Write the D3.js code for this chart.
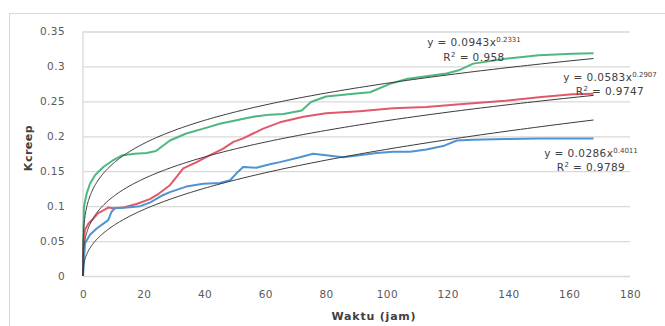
<!DOCTYPE html>
<html>
<head>
<meta charset="utf-8">
<script src="https://cdn.jsdelivr.net/npm/d3@7"></script>
<style>
  body { margin: 0; background: #ffffff; }
  svg { display: block; font-family: "DejaVu Sans", sans-serif; }
</style>
</head>
<body>
<svg></svg>
<script>
// data (time in hours, creep)
var greenT = [0, 0.1, 0.3, 1.2, 2.3, 3.9, 6.7, 10, 13, 17, 21, 24, 28.6, 34, 39.6, 45, 50.5, 56, 61.5, 66, 72, 75, 80, 89, 94.5, 96.6, 101, 106.5, 113, 119.6, 124, 128.4, 139, 150, 161, 168]
var greenV = [0, 0.051, 0.099, 0.118, 0.132, 0.144, 0.156, 0.166, 0.173, 0.175, 0.176, 0.179, 0.194, 0.204, 0.211, 0.218, 0.223, 0.228, 0.231, 0.232, 0.237, 0.249, 0.257, 0.261, 0.263, 0.267, 0.275, 0.282, 0.286, 0.29, 0.295, 0.304, 0.311, 0.316, 0.318, 0.319]

var redT = [0, 0.2, 0.66, 1.75, 3.4, 5, 6.7, 8.3, 10, 13.3, 17.6, 22, 25, 28.6, 30.8, 33, 37.4, 41.8, 46, 49.5, 52.7, 56, 59.3, 64.8, 72.5, 80, 91, 102, 113, 124, 139, 150, 161, 168]
var redV = [0, 0.05, 0.066, 0.075, 0.082, 0.09, 0.094, 0.098, 0.097, 0.098, 0.103, 0.11, 0.118, 0.13, 0.142, 0.154, 0.163, 0.173, 0.182, 0.192, 0.197, 0.204, 0.211, 0.22, 0.228, 0.233, 0.236, 0.24, 0.242, 0.246, 0.251, 0.256, 0.26, 0.261]

var blueT = [0, 0.66, 2.3, 4.5, 6.7, 8.3, 9.4, 10.5, 14.4, 18.8, 22, 26.4, 28.6, 34, 39.6, 45, 48.4, 50.5, 52.7, 57, 61.5, 64.8, 71.4, 75.7, 80, 85.6, 91, 96.6, 102, 107.6, 113, 118.5, 123, 128, 139, 150, 168]
var blueV = [0, 0.047, 0.059, 0.068, 0.075, 0.08, 0.092, 0.097, 0.098, 0.1, 0.105, 0.116, 0.12, 0.128, 0.132, 0.133, 0.137, 0.147, 0.156, 0.155, 0.16, 0.163, 0.17, 0.175, 0.173, 0.17, 0.173, 0.176, 0.178, 0.178, 0.181, 0.186, 0.194, 0.195, 0.196, 0.197, 0.197]

// power trendlines y = a * x^b, as printed on the chart
var trendA = [0.0943, 0.0583, 0.0286]
var trendB = [0.2331, 0.2907, 0.4011]
var trendR2 = ['0.958', '0.9747', '0.9789']

var xTicks = [0, 20, 40, 60, 80, 100, 120, 140, 160, 180]
var yTicks = [0, 0.05, 0.1, 0.15, 0.2, 0.25, 0.3, 0.35]

var svgWidth = 665, svgHeight = 326
var plotLeft = 83, plotRight = 630, plotTop = 31.5, plotBottom = 276

var svg = d3.select('svg')
    .attr('width', svgWidth)
    .attr('height', svgHeight)

// chart frame
svg.append('rect')
    .attr('x', 9.5).attr('y', 13.5)
    .attr('width', 700).attr('height', 400)
    .attr('fill', 'none')
    .attr('stroke', '#d9d9d9')

var x = d3.scaleLinear().domain([0, 180]).range([plotLeft, plotRight])
var y = d3.scaleLinear().domain([0, 0.35]).range([plotBottom, plotTop])

// gridlines
svg.append('g')
    .attr('transform', 'translate(' + plotLeft + ',0)')
    .call(d3.axisLeft(y).tickValues(yTicks).tickSize(-(plotRight - plotLeft)).tickFormat(''))
    .call(function(g) {
        g.select('.domain').remove()
        g.selectAll('line').attr('stroke', '#d9d9d9').attr('stroke-width', 1.3)
    })

// vertical axis line
svg.append('line')
    .attr('x1', plotLeft).attr('x2', plotLeft)
    .attr('y1', plotTop).attr('y2', plotBottom)
    .attr('stroke', '#d9d9d9').attr('stroke-width', 1.3)

// tick labels
svg.append('g')
    .attr('transform', 'translate(' + (plotLeft - 15) + ',0)')
    .call(d3.axisLeft(y).tickValues(yTicks).tickSize(0).tickFormat(function(d) { return String(+d.toFixed(2)) }))
    .call(function(g) {
        g.select('.domain').remove()
        g.selectAll('text').attr('fill', '#595959').style('font-size', '10.5px')
            .attr('font-family', '"DejaVu Sans", sans-serif').attr('letter-spacing', 0.4)
    })

svg.append('g')
    .attr('transform', 'translate(0,' + (plotBottom + 12) + ')')
    .call(d3.axisBottom(x).tickValues(xTicks).tickSize(0))
    .call(function(g) {
        g.select('.domain').remove()
        g.selectAll('text').attr('fill', '#595959').style('font-size', '10.5px')
            .attr('font-family', '"DejaVu Sans", sans-serif').attr('letter-spacing', 0.4)
    })

// axis titles
svg.append('text')
    .attr('x', 374).attr('y', 320)
    .attr('text-anchor', 'middle')
    .attr('font-weight', 'bold').attr('font-size', 11).attr('letter-spacing', 0.8)
    .attr('fill', '#404040')
    .text('Waktu (jam)')

svg.append('text')
    .attr('transform', 'translate(32,148) rotate(-90)')
    .attr('text-anchor', 'middle')
    .attr('font-weight', 'bold').attr('font-size', 11).attr('letter-spacing', 0.5)
    .attr('fill', '#404040')
    .text('Kcreep')

var line = d3.line()
    .x(function(d) { return x(d[0]) })
    .y(function(d) { return y(d[1]) })

var series = [
    { t: greenT, v: greenV, color: '#4cb87e' },
    { t: redT, v: redV, color: '#e0596a' },
    { t: blueT, v: blueV, color: '#4f93d2' }
]

// data lines
series.forEach(function(s) {
    svg.append('path')
        .datum(d3.zip(s.t, s.v))
        .attr('fill', 'none')
        .attr('stroke', s.color)
        .attr('stroke-width', 2)
        .attr('stroke-linejoin', 'round')
        .attr('d', line)
})

// trendlines, sampled densely near zero where they climb fast
var samples = d3.range(0, 201).map(function(i) { return 168 * Math.pow(i / 200, 3) })
trendA.forEach(function(a, k) {
    svg.append('path')
        .datum(samples.map(function(t) { return [t, a * Math.pow(t, trendB[k])] }))
        .attr('fill', 'none')
        .attr('stroke', '#3a3a3a')
        .attr('stroke-width', 1)
        .attr('d', line)
})

// equation labels
var labelPos = [[474, 46, 61], [610, 81, 95], [591, 157, 171]]
labelPos.forEach(function(p, k) {
    var t1 = svg.append('text')
        .attr('x', p[0]).attr('y', p[1])
        .attr('text-anchor', 'middle')
        .attr('font-size', 10.5).attr('letter-spacing', 0.4)
        .attr('fill', '#404040')
    t1.append('tspan').text('y = ' + trendA[k] + 'x')
    t1.append('tspan').attr('dy', -4).attr('font-size', 7).attr('letter-spacing', 0).text(trendB[k])
    var t2 = svg.append('text')
        .attr('x', p[0]).attr('y', p[2])
        .attr('text-anchor', 'middle')
        .attr('font-size', 10.5).attr('letter-spacing', 0.4)
        .attr('fill', '#404040')
    t2.append('tspan').text('R')
    t2.append('tspan').attr('dy', -4).attr('font-size', 7).text('2')
    t2.append('tspan').attr('dy', 4).text(' = ' + trendR2[k])
})
</script>
</body>
</html>
